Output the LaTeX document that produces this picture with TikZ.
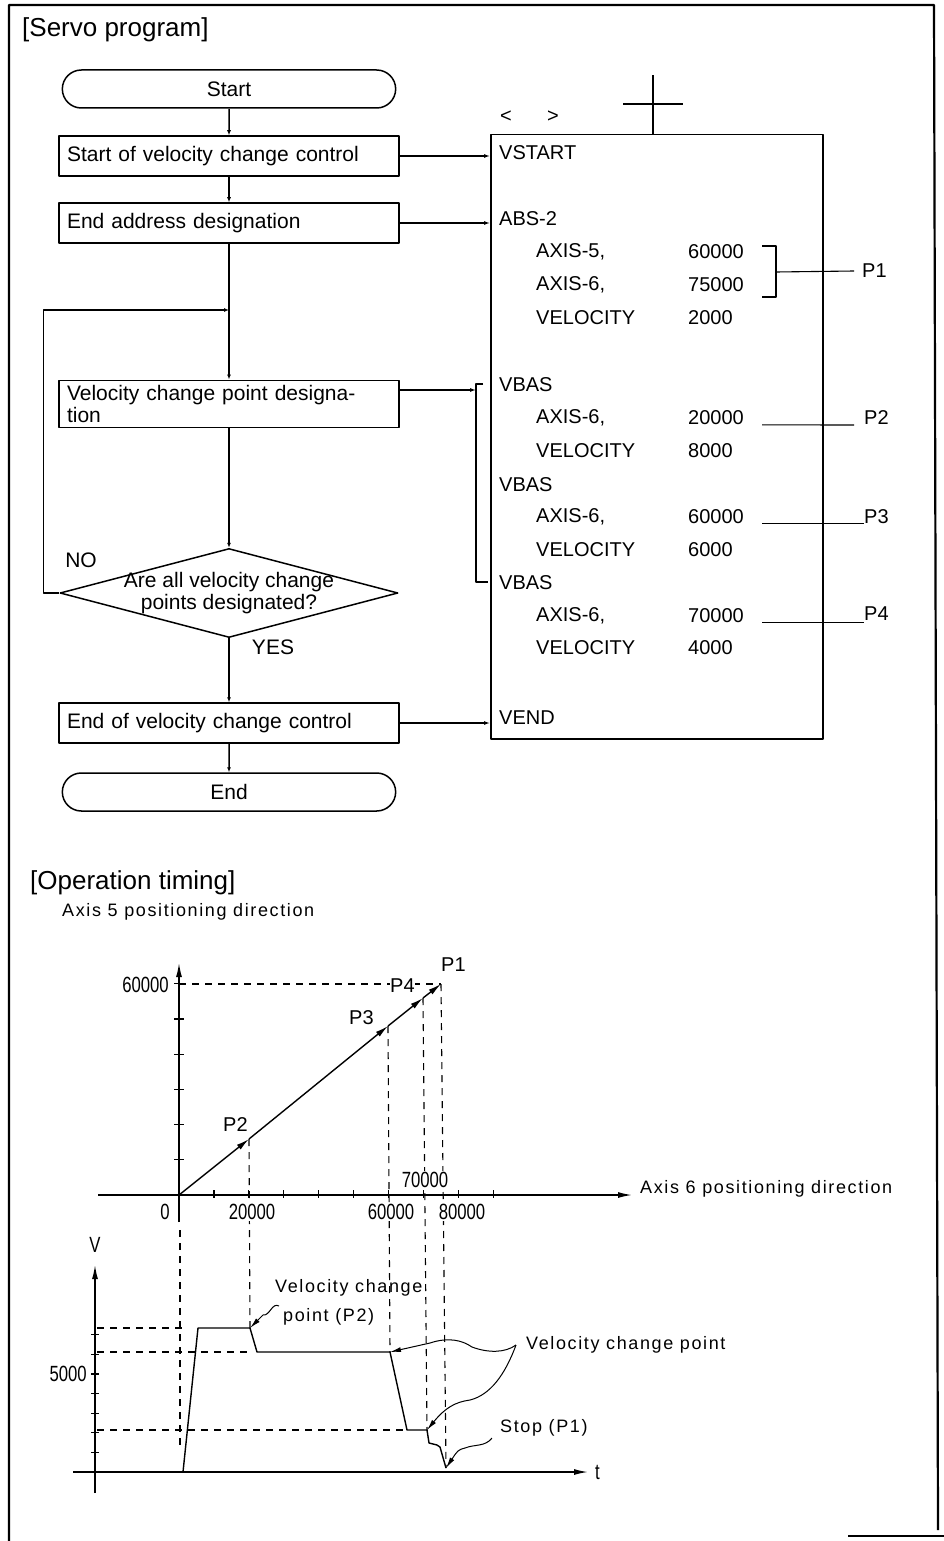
\documentclass[tikz,border=0pt]{standalone}
\usepackage{graphicx}
\usepackage{fontspec}
\setmainfont{Liberation Sans}
\newfontfamily\spacedfont[LetterSpace=9]{Liberation Sans}
\usetikzlibrary{shapes.geometric,shapes.misc,arrows.meta,positioning}

\newcommand\titlesize{\fontsize{26}{30}\selectfont}
\newcommand\flowsize{\fontsize{21}{22}\selectfont}
\newcommand\progsize{\fontsize{20}{20}\selectfont}
\newcommand\notesize{\spacedfont\fontsize{18}{29}\selectfont}
\newcommand\narrow[1]{\scalebox{0.76}[1]{\fontsize{22}{22}\selectfont #1}}

\tikzset{
  outerframe/.style={line width=2.2pt},
  heading/.style={anchor=west, inner sep=0pt, font=\titlesize},
  flowtext/.style={inner sep=1pt, font=\flowsize},
  flowbox/.style={draw, line width=1.5pt, font=\flowsize, text width=324pt, align=left,
    inner xsep=8pt, inner ysep=5pt, minimum height=40pt},
  termbox/.style={draw, rounded rectangle, line width=1.5pt, font=\flowsize,
    minimum width=340pt, minimum height=38pt},
  decision/.style={draw, diamond, line width=1.5pt, minimum width=338pt,
    minimum height=89pt, inner sep=0pt},
  flowline/.style={line width=1.5pt, -{Latex[length=5pt,width=4pt]}},
  progline/.style={line width=1.1pt},
  progarrow/.style={progline, -{Latex[length=6pt,width=4pt]}},
  progtext/.style={anchor=west, inner sep=0pt, font=\progsize},
  axisline/.style={line width=1.4pt, -{Latex[length=14pt,width=6pt]}},
  axtick/.style={line width=1.2pt},
  track/.style={line width=1.4pt, -{Latex[length=13pt,width=6pt]}},
  dashline/.style={line width=1.1pt, dash pattern=on 7pt off 6pt},
  numlbl/.style={inner sep=1pt, fill=white},
  note/.style={anchor=west, inner sep=0pt, font=\notesize},
  vprofile/.style={line width=1.4pt},
  leader/.style={line width=1pt, -{Latex[length=11pt,width=5pt]}},
}

\begin{document}
\begin{tikzpicture}[x=1pt, y=-1pt, line join=round]
\useasboundingbox (0,0) rectangle (944,1541);

% page frame
\draw[outerframe] (9,1541) -- (9,5) -- (934,5) -- (938,1530);
\draw[outerframe] (848,1536) -- (944,1536);

\node[heading] (servo) at (22,30) {[Servo program]};

% flowchart
\node[termbox] (start) at (229,89) {Start};
\node[flowbox] (box1) at (229,156) {Start of velocity change control};
\node[flowbox] (box2) at (229,223) {End address designation};
\coordinate (join) at (229,310);
\node[flowbox] (box3) at (229,404) {Velocity change point designa-\\tion};
\node[decision] (check) at (229,593) {};
\node[flowtext, align=center] (question) at (check.center) {Are all velocity change\\points designated?};
\node[flowtext] (no) at (81,560) {NO};
\node[flowtext] (yes) at (273,647) {YES};
\node[flowbox] (box4) at (229,723) {End of velocity change control};
\node[termbox] (finish) at (229,792) {End};

\draw[flowline] (start) -- (box1);
\draw[flowline] (box1) -- (box2);
\draw[line width=1.5pt] (box2) -- (join);
\draw[flowline] (join) -- (box3);
\draw[flowline] (box3) -- (check);
\draw[flowline] (check) -- (box4);
\draw[flowline] (box4) -- (finish);
\draw[flowline] (check.west) -- ++(-16,0) |- (join);

% servo program listing
\node[draw, line width=1.5pt, minimum width=332pt, minimum height=604pt,
  anchor=north west, inner sep=0pt] (prog) at (490,134) {};
\node[progtext] (lt) at (500,117) {<};
\node[progtext] (gt) at (547,117) {>};
\draw[progline] (653,134) -- (653,75);
\draw[progline] (623,104) -- (683,104);

\node[progtext] (vstart) at (499,153) {VSTART};
\node[progtext] (abs) at (499,219) {ABS-2};
\node[progtext] (vbasa) at (499,385) {VBAS};
\node[progtext] (vbasb) at (499,485) {VBAS};
\node[progtext] (vbasc) at (499,583) {VBAS};
\node[progtext] (vend) at (499,718) {VEND};
\foreach \n/\yy/\k/\v in {a/252/{AXIS-5,}/60000, b/285/{AXIS-6,}/75000, c/318/VELOCITY/2000,
    d/418/{AXIS-6,}/20000, e/451/VELOCITY/8000, f/517/{AXIS-6,}/60000,
    g/550/VELOCITY/6000, h/616/{AXIS-6,}/70000, i/648/VELOCITY/4000}{
  \node[progtext] (key\n) at (536,\yy) {\k};
  \node[progtext] (val\n) at (688,\yy) {\v};
}

% point markers
\node[progtext] (pone) at (862,271) {P1};
\node[progtext] (ptwo) at (864,418) {P2};
\node[progtext] (pthree) at (864,517) {P3};
\node[progtext] (pfour) at (864,614) {P4};
\coordinate (brk) at (776,272);
\draw[progline] (762,246) -- (776,246) -- (776,297) -- (762,297);
\draw[progline] (brk) -- ([xshift=-8pt]pone.west);
\draw[progline] ([xshift=18pt]vald.base east) -- ([xshift=-10pt]ptwo.base west);
\draw[progline] ([xshift=18pt]valf.base east) -- (pthree.base west);
\draw[progline] ([xshift=18pt]valh.base east) -- (valh.base -| pfour.west);

% links from the flowchart
\coordinate (vbrk) at (476,390);
\draw[progline] (483,384) -- (476,384) -- (476,582) -- (488,582);
\draw[progarrow] (box1.east) -- (box1.east -| prog.west);
\draw[progarrow] (box2.east) -- (box2.east -| prog.west);
\draw[progarrow] ([yshift=14pt]box3.east) -- (vbrk);
\draw[progarrow] (box4.east) -- (box4.east -| prog.west);

% operation timing
\node[heading] (timing) at (30,883) {[Operation timing]};
\node[note] (ax5) at (62,912) {Axis 5 positioning direction};

\coordinate (O) at (179,1195);
\coordinate (P2) at (249,1139);
\coordinate (P3) at (388,1026);
\coordinate (P4) at (423,998);
\coordinate (P1) at (441,984);

% velocity profile corners
\coordinate (vc2) at (250,1328);
\coordinate (vc3) at (390,1352);
\coordinate (vc4) at (427,1430);
\coordinate (stop) at (446,1468);

% guide lines
\draw[dashline] (179,984) -- (P1);
\draw[dashline] (180,1230) -- (180,1450);
\draw[dashline] (P2) -- (vc2);
\draw[dashline] (P3) -- (vc3);
\draw[dashline] (P4) -- (vc4);
\draw[dashline] (P1) -- (stop);
\draw[dashline] (97,1328) -- (183,1328);
\draw[dashline] (97,1352) -- (250,1352);
\draw[dashline] (97,1430) -- (407,1430);

% positioning axes
\draw[axisline] (98,1195) -- (632,1195);
\node[note] (ax6) at (640,1189) {Axis 6 positioning direction};
\draw[axisline] (179,1222) -- (179,963);
\foreach \k in {1,...,6}
  \draw[axtick] (174,{1195-35.2*\k}) -- (184,{1195-35.2*\k});
\foreach \k in {1,...,9}
  \draw[axtick] ({179+34.9*\k},1190) -- ({179+34.9*\k},1198);

\draw[track] (O) -- (P2);
\draw[track] (P2) -- (P3);
\draw[track] (P3) -- (P4);
\draw[track] (P4) -- (P1);

\node[numlbl, anchor=east] (y60) at (170,985) {\narrow{60000}};
\node[numlbl] (x0) at (165,1212) {\narrow{0}};
\node[numlbl] (x20) at (252,1212) {\narrow{20000}};
\node[numlbl] (x60) at (391,1212) {\narrow{60000}};
\node[numlbl] (x80) at (462,1212) {\narrow{80000}};
\node[numlbl] (x70) at (425,1180) {\narrow{70000}};
\node[progtext, fill=white] (lp2) at (223,1125) {P2};
\node[progtext] (lp3) at (349,1018) {P3};
\node[progtext, fill=white] (lp4) at (390,986) {P4};
\node[progtext] (lp1) at (441,965) {P1};

% velocity against time
\draw[axisline] (95,1493) -- (95,1265);
\node (vlbl) at (95,1245) {\narrow{V}};
\draw[axisline] (73,1472) -- (588,1472);
\node[anchor=west, inner sep=1pt] (tlbl) at (594,1472) {\narrow{t}};
\foreach \k in {1,...,7}
  \draw[axtick] (91,{1472-19.6*\k}) -- (99,{1472-19.6*\k});
\node[anchor=east, inner sep=1pt] (v5000) at (88,1374) {\narrow{5000}};

\draw[vprofile] (183,1472) -- (198,1328) -- (vc2) -- (257,1352) -- (vc3)
  -- (407,1430) -- (vc4) -- (429,1443) -- (437,1445) -- (440,1447) -- (stop);

\node[note, align=left] (vc2lbl) at (275,1302) {Velocity change\\\hspace*{8pt}point (P2)};
\draw[leader] ([xshift=4pt,yshift=-4pt]vc2lbl.west) .. controls (272,1302) and (270,1316) .. (263,1315) -- (vc2);

\node[note] (vcp) at (526,1345) {Velocity change point};
\draw[leader] ([xshift=-10pt]vcp.west) .. controls (505,1353) and (488,1353) .. (472,1347)
  .. controls (462,1340) and (448,1337) .. (430,1343) -- (vc3);
\draw[leader] ([xshift=-10pt]vcp.west) .. controls (505,1375) and (490,1395) .. (470,1400)
  .. controls (455,1402) and (445,1408) .. (vc4);

\node[note] (stoplbl) at (500,1428) {Stop (P1)};
\draw[leader] ([xshift=-8pt,yshift=-10pt]stoplbl.west) .. controls (485,1447) and (475,1444) .. (465,1448)
  .. controls (458,1450) .. (stop);
\end{tikzpicture}
\end{document}
